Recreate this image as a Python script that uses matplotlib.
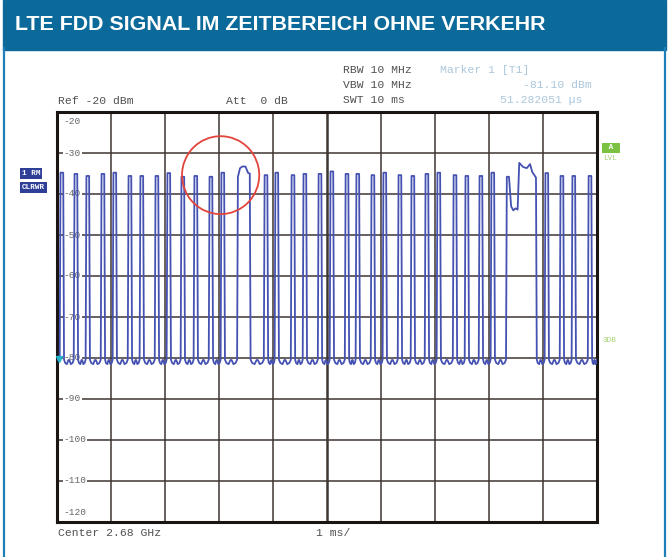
import matplotlib.pyplot as plt
from matplotlib.patches import Ellipse, Rectangle
from matplotlib.lines import Line2D

W, H = 670, 557

# pulse centres (ms) and their top level (dBm)
pulse_ms = [0.09, 0.35, 0.57, 0.85, 1.07, 1.35, 1.57, 1.85, 2.07, 2.33,
            2.57, 2.85, 3.07, 3.87, 4.07, 4.37, 4.59, 4.87, 5.09, 5.37,
            5.57, 5.85, 6.07, 6.35, 6.59, 6.85, 7.07, 7.37, 7.59, 7.85,
            8.07, 9.07, 9.35, 9.57, 9.87]
pulse_dbm = [-34.8, -35.1, -35.6, -35.1, -34.8, -35.6, -35.6, -35.6, -34.9, -35.8,
             -35.6, -35.8, -34.8, -35.4, -34.8, -35.4, -35.1, -35.1, -34.5, -35.1,
             -35.1, -35.4, -34.8, -35.4, -35.6, -35.1, -34.8, -35.4, -35.6, -35.6,
             -34.8, -34.9, -35.6, -35.6, -35.6]

# wider bursts (broadcast / sync symbols)
burst_a_ms = [3.35, 3.39, 3.43, 3.49, 3.54, 3.57]
burst_a_dbm = [-35.8, -33.7, -33.3, -33.3, -34.9, -35.0]
burst_b_ms = [8.33, 8.37, 8.41, 8.45, 8.49, 8.53, 8.56, 8.63, 8.70, 8.76, 8.80, 8.87]
burst_b_dbm = [-35.8, -35.8, -43.0, -44.0, -43.5, -43.8, -32.4, -33.4, -33.7, -32.7, -34.6, -36.0]

base_dbm = -80.4
gap_frac = [0.12, 0.3, 0.45, 0.55, 0.7, 0.88]
gap_dbm = [-81.2, -81.5, -80.5, -80.5, -81.5, -81.2]

y_ticks = [-20, -30, -40, -50, -60, -70, -80, -90, -100, -110, -120]

# build the trace
segments = [[(t - 0.025, v), (t + 0.025, v)] for t, v in zip(pulse_ms, pulse_dbm)]
segments.append(list(zip(burst_a_ms, burst_a_dbm)))
segments.append(list(zip(burst_b_ms, burst_b_dbm)))
segments.sort(key=lambda s: s[0][0])

edge = 0.015
ts, ys = [0.0], [base_dbm]
for seg in segments:
    g0, g1 = ts[-1], seg[0][0] - edge
    if g1 - g0 > 0.08:
        for f, lv in zip(gap_frac, gap_dbm):
            ts.append(g0 + f * (g1 - g0))
            ys.append(lv)
    ts.append(g1)
    ys.append(base_dbm)
    for t, v in seg:
        ts.append(t)
        ys.append(v)
    ts.append(seg[-1][0] + edge)
    ys.append(base_dbm)
g0, g1 = ts[-1], 10.0
for f, lv in zip(gap_frac, gap_dbm):
    ts.append(g0 + f * (g1 - g0))
    ys.append(lv)
ts.append(g1)
ys.append(base_dbm)


def fx(x):
    return x / W


def fy(y):
    return 1 - y / H


fig = plt.figure(figsize=(W / 100, H / 100), dpi=100)
fig.patch.set_facecolor('white')

# header bar and frame
fig.patches.append(Rectangle((fx(3), fy(50)), 663 / W, 50 / H,
                             transform=fig.transFigure, color='#0b6a9a', zorder=0))
for x in [4, 665]:
    fig.add_artist(Line2D([fx(x), fx(x)], [0, fy(48)], color='#1f7fb8', lw=1.6))

title = fig.text(fx(15), fy(24), 'LTE FDD SIGNAL IM ZEITBEREICH OHNE VERKEHR',
                 color='white', fontsize=16, fontweight='bold',
                 family=['Liberation Sans Narrow', 'Liberation Sans'], va='center')
fig.canvas.draw()
w = title.get_window_extent().width
title.set_fontsize(16 * 531 / w)

ax = fig.add_axes([fx(57), fy(522), 540 / W, 410 / H])
ax.set_xlim(0, 10)
ax.set_ylim(-120, -20)
ax.set_xticks([])
ax.set_yticks([])
for s in ax.spines.values():
    s.set_linewidth(2.2)
    s.set_color('#1a1512')

grid_c = '#3e3631'
for x in range(1, 10):
    ax.axvline(x, color=grid_c, lw=1.8 if x == 5 else 1.1, zorder=1)
for y in y_ticks[1:-1]:
    ax.axhline(y, color=grid_c, lw=1.1, zorder=1)

mono = 'Liberation Mono'
for y in y_ticks:
    yy = -22.2 if y == -20 else (-117.8 if y == -120 else y)
    ax.text(0.12, yy, str(y), family=mono, fontsize=6.8, color='#666666',
            va='center', ha='left', zorder=2,
            bbox=dict(facecolor='white', edgecolor='none', pad=0.6))

ax.plot(ts, ys, color='#4552b2', lw=1.3, zorder=3)
ax.plot([0.03], [-80.2], marker='v', color='#22b5c9', ms=5, clip_on=False, zorder=4)

ax.add_patch(Ellipse((3.03, -35.4), width=1.43, height=19.0, fill=False,
                     ec='#e2453c', lw=1.3, zorder=4))

# instrument annotations
txt_c = '#505050'
fs = 8.2
fig.text(fx(58), fy(101), 'Ref -20 dBm', family=mono, fontsize=fs, color=txt_c, va='center')
fig.text(fx(226), fy(101), 'Att  0 dB', family=mono, fontsize=fs, color=txt_c, va='center')
fig.text(fx(343), fy(70), 'RBW 10 MHz', family=mono, fontsize=fs, color=txt_c, va='center')
fig.text(fx(343), fy(85), 'VBW 10 MHz', family=mono, fontsize=fs, color=txt_c, va='center')
fig.text(fx(343), fy(100), 'SWT 10 ms', family=mono, fontsize=fs, color=txt_c, va='center')
faint = '#a9c6dc'
fig.text(fx(440), fy(70), 'Marker 1 [T1]', family=mono, fontsize=fs, color=faint, va='center')
fig.text(fx(592), fy(85), '-81.10 dBm', family=mono, fontsize=fs, color=faint, va='center', ha='right')
fig.text(fx(582), fy(100), '51.282051 µs', family=mono, fontsize=fs, color=faint, va='center', ha='right')
fig.text(fx(58), fy(533), 'Center 2.68 GHz', family=mono, fontsize=fs, color=txt_c, va='center')
fig.text(fx(316), fy(533), '1 ms/', family=mono, fontsize=fs, color=txt_c, va='center')

box = dict(facecolor='#2f3f98', edgecolor='none', pad=1.2)
fig.text(fx(22), fy(173.5), '1 RM', family=mono, fontsize=5.5, color='white',
         fontweight='bold', va='center', bbox=box)
fig.text(fx(22), fy(187.5), 'CLRWR', family=mono, fontsize=5.5, color='white',
         fontweight='bold', va='center', bbox=box)
fig.text(fx(604), fy(148), ' A ', family=mono, fontsize=5.5, color='white',
         fontweight='bold', va='center', bbox=dict(facecolor='#7cc242', edgecolor='none', pad=1.2))
fig.text(fx(603), fy(159), 'LVL', family=mono, fontsize=5.5, color='#a8d070', va='center')
fig.text(fx(603), fy(341), '3DB', family=mono, fontsize=5.5, color='#a8d070', va='center')

fig.savefig('out.png', dpi=100)
